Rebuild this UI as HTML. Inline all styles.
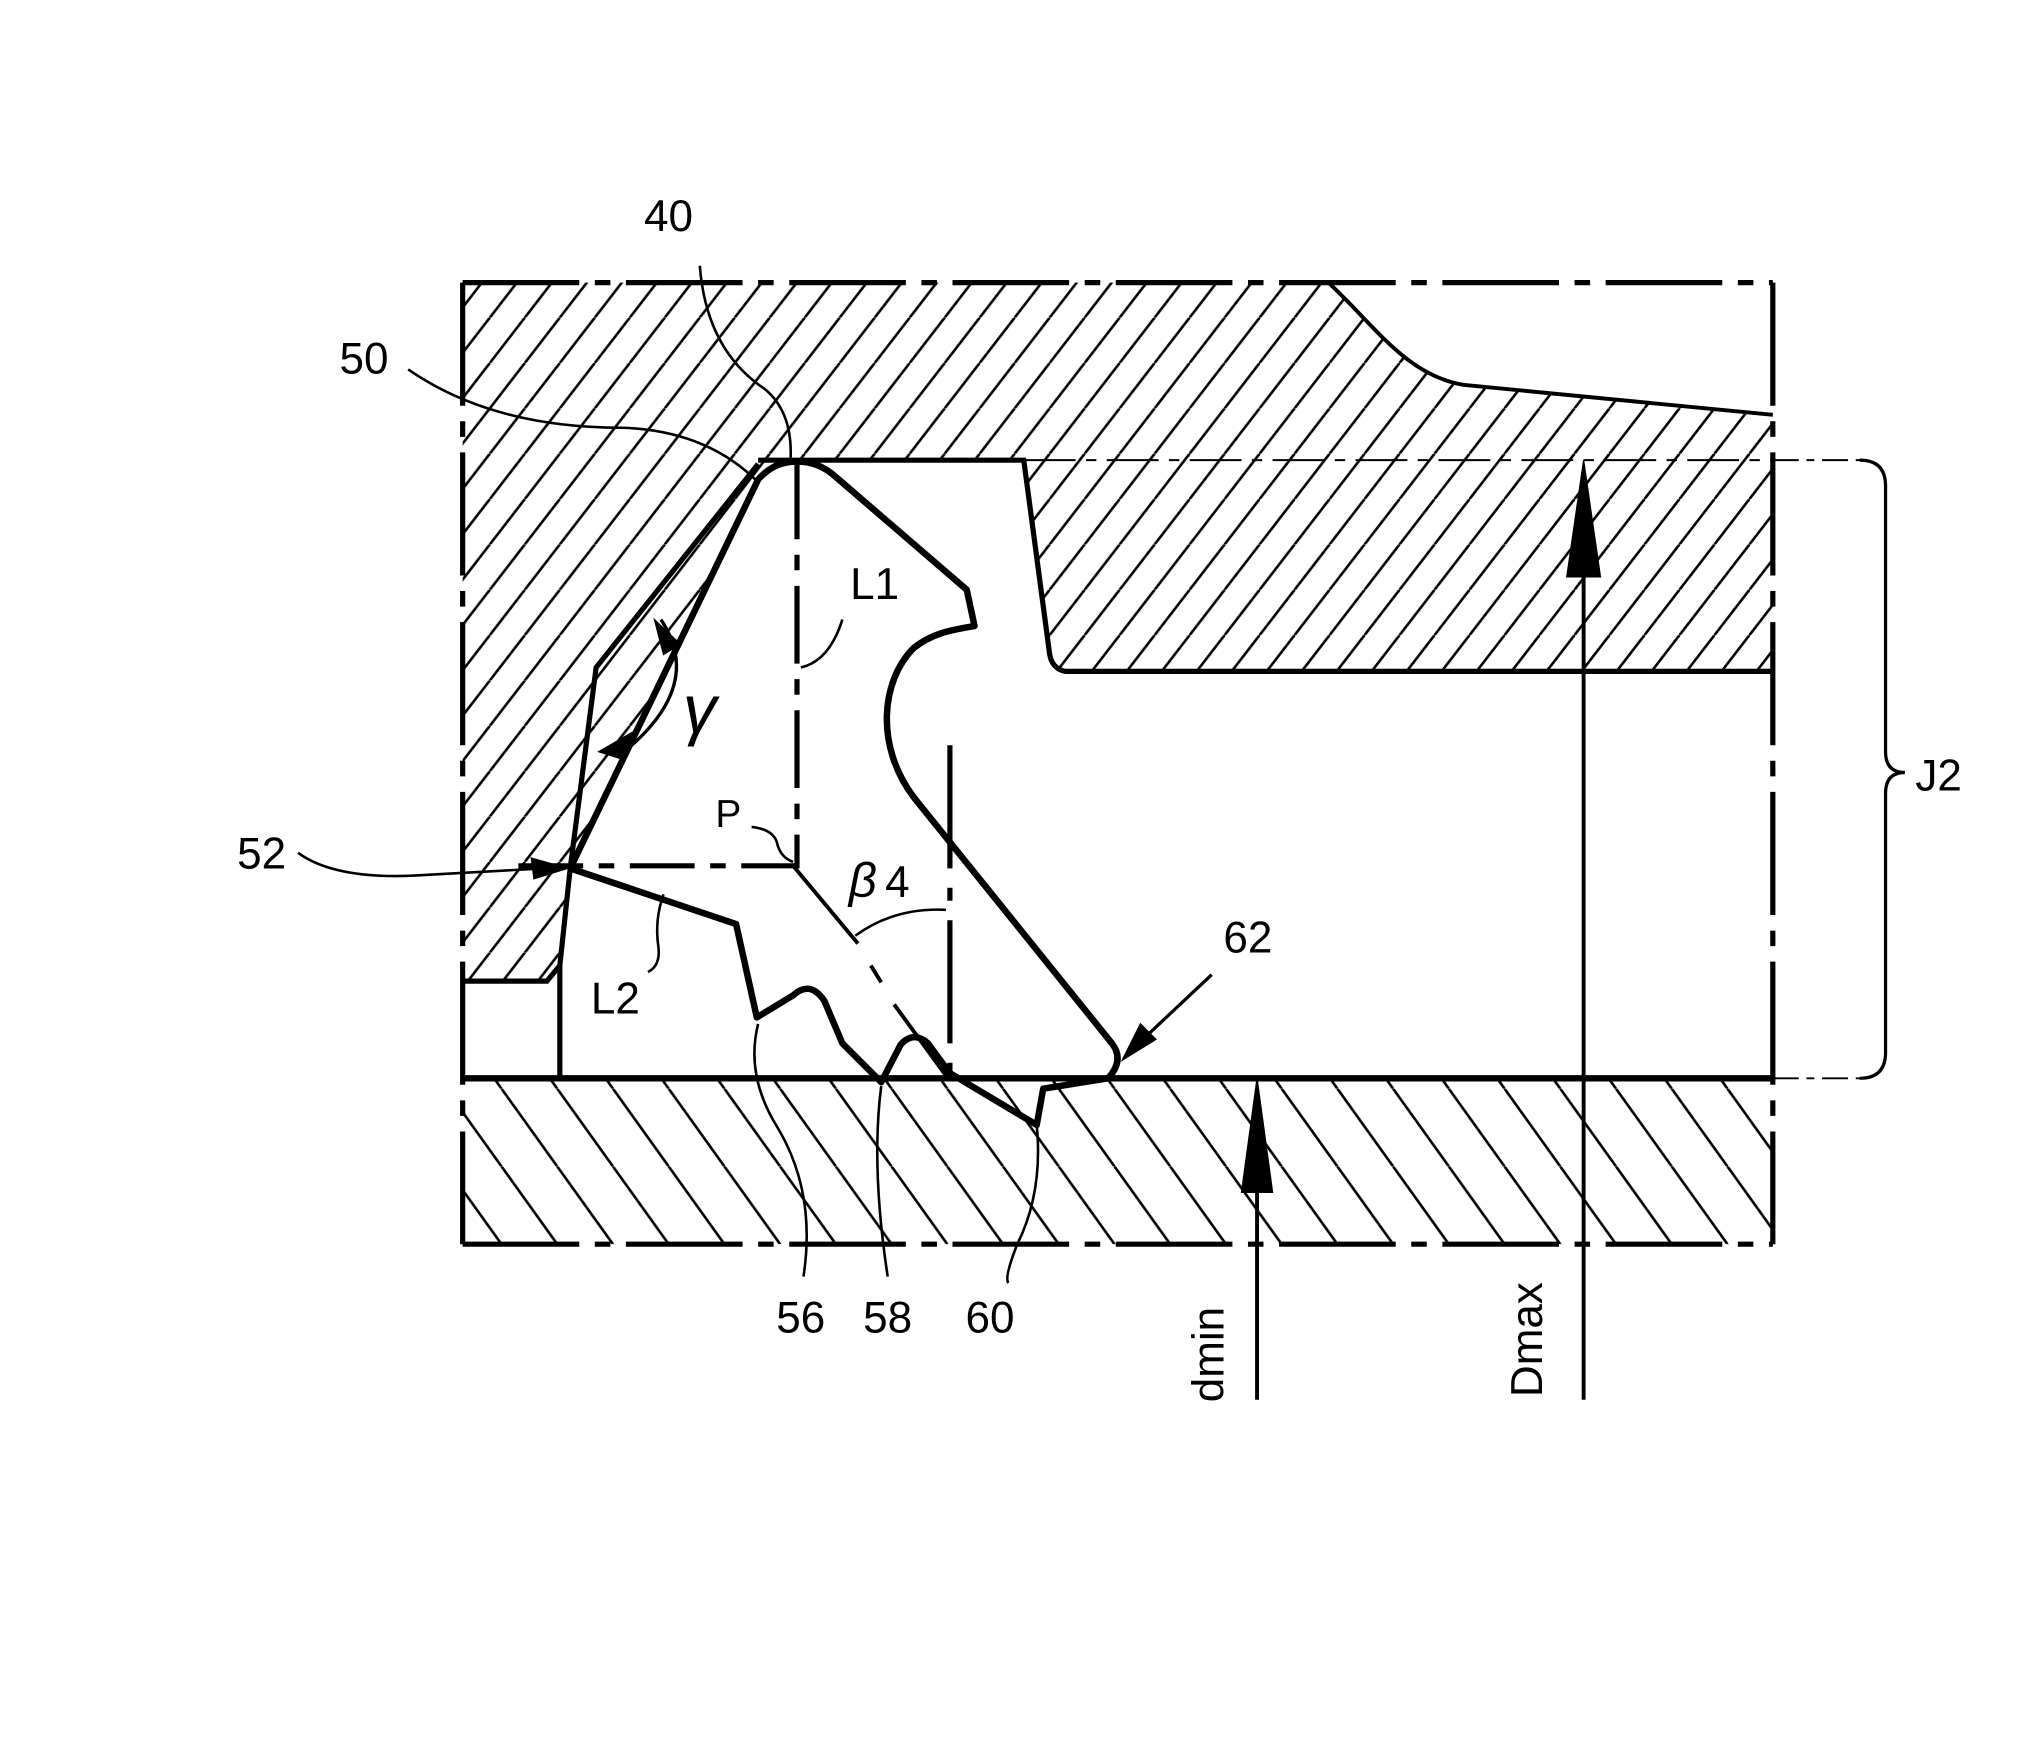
<!DOCTYPE html>
<html><head><meta charset="utf-8"><style>
html,body{margin:0;padding:0;background:#fff}
svg{display:block}
text{font-family:"Liberation Sans",sans-serif;font-size:34px;fill:#000}
</style></head><body>
<svg width="2032" height="1751" viewBox="0 0 1568 1351" xmlns="http://www.w3.org/2000/svg">
<defs>
<pattern id="hu" patternUnits="userSpaceOnUse" width="27" height="35">
<line x1="-27" y1="35" x2="0" y2="0" stroke="#000" stroke-width="2"/>
<line x1="0" y1="35" x2="27" y2="0" stroke="#000" stroke-width="2"/>
<line x1="27" y1="35" x2="54" y2="0" stroke="#000" stroke-width="2"/>
</pattern>
<pattern id="hl" patternUnits="userSpaceOnUse" width="43" height="60">
<line x1="-43" y1="0" x2="0" y2="60" stroke="#000" stroke-width="2"/>
<line x1="0" y1="0" x2="43" y2="60" stroke="#000" stroke-width="2"/>
<line x1="43" y1="0" x2="86" y2="60" stroke="#000" stroke-width="2"/>
</pattern>
</defs>
<g fill="none" stroke="#000">
<path d="M357,218 L1025,218 C1060,250 1085,290 1130,297 L1368,320 L1368,518 L822,518 Q812,516 810,505 L790,355 L600,355 L585,370 L440,670 L432,745 L422,757 L357,757 Z" fill="url(#hu)" stroke="none"/>
<rect x="357" y="832" width="1011" height="128" fill="url(#hl)" stroke="none"/>
<line x1="357" y1="218" x2="1368" y2="218" stroke-width="4" stroke-dasharray="90,12,12,12"/>
<line x1="357" y1="960" x2="1368" y2="960" stroke-width="4" stroke-dasharray="90,12,12,12"/>
<line x1="357" y1="218" x2="357" y2="960" stroke-width="4" stroke-dasharray="95,12,12,12"/>
<line x1="1368" y1="218" x2="1368" y2="960" stroke-width="4" stroke-dasharray="95,12,12,12"/>
<path d="M1025,218 C1060,250 1085,290 1130,297 L1368,320" stroke-width="3"/>
<path d="M1368,518 L822,518 Q812,516 810,505 L790,355 L585,355" stroke-width="4"/>
<line x1="790" y1="355" x2="1368" y2="355" stroke-width="1.5" stroke-dasharray="40,8,8,8"/>
<path d="M585,358 L460,515 L440,670 L432,745 L432,832" stroke-width="4"/>
<path d="M357,757 L422,757 L432,745" stroke-width="4"/>
<line x1="357" y1="832" x2="1368" y2="832" stroke-width="5"/>
<path d="M440,670 L568,713 L584,785 L612,768 Q625,756 636,772 L650,805 L680,835 L695,806 Q705,795 716,805 L733,828 L800,868 L805,840 L855,832 Q868,818 858,805 L705,615 C675,575 680,525 705,500 C720,488 735,486 752,483 L746,455 L645,368 Q632,356 615,356 Q597,356 585,370 L440,670" stroke-width="5" stroke-linejoin="round"/>
<line x1="615" y1="356" x2="615" y2="670" stroke-width="4" stroke-dasharray="60,12,12,12"/>
<line x1="400" y1="668" x2="615" y2="668" stroke-width="4" stroke-dasharray="50,12,12,12"/>
<path d="M612,668 L662,728" stroke-width="3"/>
<path d="M672,745 L680,758 M690,775 L730,830" stroke-width="3"/>
<line x1="733" y1="575" x2="733" y2="830" stroke-width="4" stroke-dasharray="95,15,10,15"/>
<path d="M660,722 Q690,700 730,702" stroke-width="2"/>
<path d="M510,478 Q545,530 478,583" stroke-width="2.5"/>
<path d="M505,478 L525,497 L512,505 Z M478,585 L462,580 L488,565 Z" fill="#000" stroke-width="1"/>
<path d="M580,638 Q598,640 600,652 Q603,662 612,665" stroke-width="2"/>
<path d="M650,478 Q640,510 618,515" stroke-width="2"/>
<path d="M512,690 Q505,710 508,730 Q510,745 500,750" stroke-width="2"/>
<path d="M540,205 Q545,270 590,300 Q612,318 610,355" stroke-width="2"/>
<path d="M315,285 Q380,330 480,330 Q545,332 585,372" stroke-width="2"/>
<path d="M230,658 Q260,680 330,675 L420,670" stroke-width="2"/>
<path d="M438,670 L410,662 L412,678 Z" fill="#000" stroke-width="1"/>
<path d="M585,790 Q575,830 600,870 Q630,920 620,985" stroke-width="2"/>
<path d="M680,838 Q672,900 685,985" stroke-width="2"/>
<path d="M800,868 Q805,920 785,960 Q775,985 778,990" stroke-width="2"/>
<path d="M935,752 L868,815" stroke-width="2.5"/>
<path d="M866,818 L880,790 L892,802 Z" fill="#000" stroke-width="1"/>
<line x1="970" y1="860" x2="970" y2="1080" stroke-width="3"/>
<path d="M970,832 L958,920 L982,920 Z" fill="#000" stroke-width="1"/>
<line x1="1222" y1="380" x2="1222" y2="1080" stroke-width="3"/>
<path d="M1222,355 L1209,445 L1235,445 Z" fill="#000" stroke-width="1"/>
<line x1="1368" y1="355" x2="1438" y2="355" stroke-width="1.5" stroke-dasharray="20,6,6,6"/>
<line x1="1368" y1="832" x2="1438" y2="832" stroke-width="1.5" stroke-dasharray="20,6,6,6"/>
<path d="M1435,355 Q1455,355 1455,375 L1455,580 Q1455,596 1470,596 Q1455,596 1455,612 L1455,812 Q1455,832 1435,832" stroke-width="2.5"/>
</g>
<text x="497" y="178">40</text>
<text x="262" y="288">50</text>
<text x="183" y="670">52</text>
<text x="656" y="462">L1</text>
<text x="456" y="782">L2</text>
<text x="552" y="638" style="font-size:30px">P</text>
<text x="655" y="692" style="font-style:italic;font-size:38px">β</text>
<text x="683" y="692">4</text>
<text x="527" y="565" style="font-style:italic;font-size:52px">γ</text>
<text x="944" y="735">62</text>
<text x="599" y="1028">56</text>
<text x="666" y="1028">58</text>
<text x="745" y="1028">60</text>
<text x="1478" y="610">J2</text>
<text transform="translate(944,1082) rotate(-90)">dmin</text>
<text transform="translate(1190,1078) rotate(-90)">Dmax</text>
</svg>
</body></html>
